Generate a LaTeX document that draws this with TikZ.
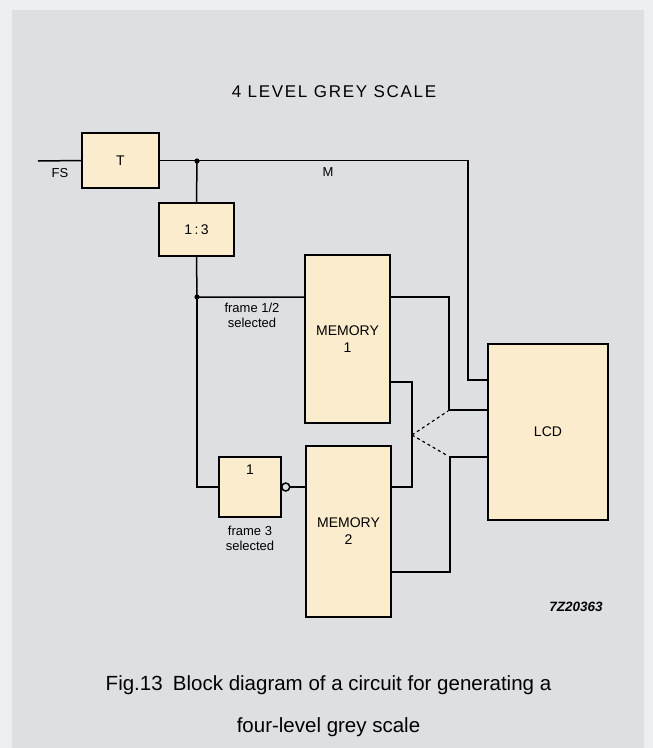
\documentclass[tikz,border=0pt]{standalone}
\usepackage{fontspec}
\setmainfont{Liberation Sans}
\newfontfamily\spacedfont[LetterSpace=10]{Liberation Sans}
\usetikzlibrary{positioning}
\definecolor{paper}{RGB}{221,223,227}
\definecolor{rim}{RGB}{238,239,242}
\definecolor{cream}{RGB}{250,236,205}

\begin{document}
\begin{tikzpicture}[x=1pt, y=-1pt, line width=1.5pt,
  block/.style={draw, fill=cream, inner sep=0pt, font=\fontsize{14}{17}\selectfont, align=center},
  tag/.style={font=\fontsize{13}{15}\selectfont, align=center, inner sep=0pt}]
\useasboundingbox (0,0) rectangle (653,748);
\fill[rim] (0,0) rectangle (653,748);
\fill[paper] (12,10) rectangle (644,748);
% blocks
\node[block, minimum width=77pt, minimum height=55pt] (T) at (120.5,160.5) {T};
\node[block, minimum width=75pt, minimum height=53pt] (ratio) at (196.5,229.5) {1\,:\,3};
\node[block, minimum width=85pt, minimum height=168pt] (memA) at (347.5,339) {MEMORY\\1};
\node[block, minimum width=85pt, minimum height=171pt] (memB) at (348.5,531.5) {MEMORY\\2};
\node[block, minimum width=62pt, minimum height=60pt,
  label={[tag, font=\fontsize{14}{17}\selectfont, anchor=north, yshift=-8pt]north:1}] (inv) at (250,487) {};
\node[block, minimum width=120pt, minimum height=176pt] (LCD) at (548,432) {LCD};
% wiring
\coordinate (fsin) at (38,161);
\coordinate (j1) at (197,161);
\coordinate (j2) at (197,297);
\coordinate (mbend) at (468,380);
\draw (fsin) -- (T.west);
\draw (T.east) -| (mbend) -- (mbend -| LCD.west);
\draw (j1) -- (ratio.north);
\draw (ratio.south) -- (j2) -- (j2 -| memA.west);
\draw (j2) |- (inv.west);
\fill (j1) circle (2.6pt) (j2) circle (2.6pt);
\draw (inv.east) ++(4,0) circle (4pt);
\draw ([xshift=8pt]inv.east) -- (inv.east -| memB.west);
\draw (memA.east |- 0,297) -| (449,410) -- (LCD.west |- 0,410);
\draw (memA.east |- 0,382) -| (412,487) -- (memB.east |- 0,487);
\draw (memB.east |- 0,572) -| (450,457) -- (LCD.west |- 0,457);
\coordinate (pivot) at (412,435);
\draw[dashed, line width=1.2pt, dash pattern=on 3pt off 3pt] (pivot) -- (448,411) (pivot) -- (448,456);
% labels
\node[tag] (fs) at (60,173) {FS};
\node[tag] (mlab) at (328,172) {M};
\node[tag] (sel12) at (252,315) {frame 1/2\\selected};
\node[tag] (sel3) at (250,538) {frame 3\\selected};
\node[font=\fontsize{13.5}{16}\bfseries\itshape\selectfont] (code) at (576,607) {7Z20363};
\node[font=\spacedfont\fontsize{17}{20}\selectfont] (title) at (334,92) {4 LEVEL GREY SCALE};
\node[font=\fontsize{20.5}{42}\selectfont, align=center] (caption) at (328.5,706)
  {Fig.13\enspace Block diagram of a circuit for generating a\\four-level grey scale};
\end{tikzpicture}
\end{document}
